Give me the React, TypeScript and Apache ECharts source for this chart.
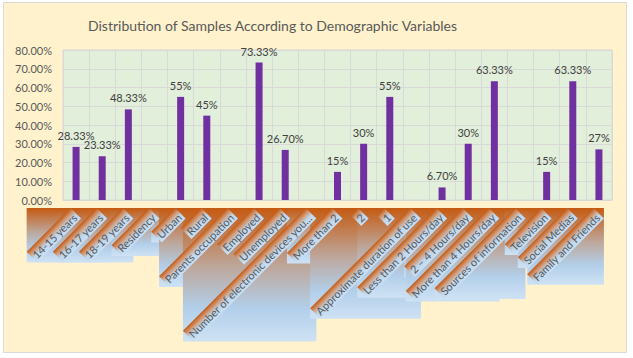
import React, { useEffect, useRef } from "react";
import * as echarts from "echarts";

const categories = [
  "14-15 years", "16-17 years", "18-19 years", "Residency", "Urban", "Rural",
  "Parents occupation", "Employed", "Unemployed", "Number of electronic devices you...",
  "More than 2", "2", "1", "Approximate duration of use", "Less than 2 Hours/day",
  "2 \u2013 4 Hours/day", "More than 4 Hours/day", "Sources of information",
  "Television", "Social Medias", "Family and Friends",
];
const values = [
  28.33, 23.33, 48.33, null, 55, 45, null, 73.33, 26.7, null, 15, 30, 55, null,
  6.7, 30, 63.33, null, 15, 63.33, 27,
];
const valueLabels = [
  "28.33%", "23.33%", "48.33%", "", "55%", "45%", "", "73.33%", "26.70%", "",
  "15%", "30%", "55%", "", "6.70%", "30%", "63.33%", "", "15%", "63.33%", "27%",
];
const yMin = 0;
const yMax = 80;
const yStep = 10;

const TITLE = "Distribution of Samples According to Demographic Variables";
const FONT_FAMILY = "Lato";
const CAT_FONT_SIZE = 11;
const BAND_H = 15;

function measure(text: string, font: string): number {
  const c = document.createElement("canvas").getContext("2d");
  if (!c) return text.length * 5;
  c.font = font;
  return c.measureText(text).width;
}

export default function App() {
  const ref = useRef<HTMLDivElement>(null);
  useEffect(() => {
    if (!ref.current) return;
    const chart = echarts.init(ref.current, null, { renderer: "svg" });
    const catFont = `${CAT_FONT_SIZE}px ${FONT_FAMILY}`;
    const widths = categories.map((c) => measure(c, catFont) + 4);

    const boxGrad = () =>
      new echarts.graphic.LinearGradient(0, 0, 0, 1, [
        { offset: 0, color: "#C55A11" },
        { offset: 0.45, color: "#BDA89E" },
        { offset: 0.75, color: "#B2CFEA" },
        { offset: 1, color: "#CFE2F4" },
      ]);
    const bandGrad = () =>
      new echarts.graphic.LinearGradient(0, 0, 0, 1, [
        { offset: 0, color: "#C55A11" },
        { offset: 0.3, color: "#D19C7C" },
        { offset: 0.6, color: "#BDD7EE" },
        { offset: 1, color: "#CADFF2" },
      ]);

    const geom = (api: any, i: number) => {
      const p = api.coord([i, 0]);
      const w = widths[i];
      const s = (w + BAND_H) * Math.SQRT1_2;
      const right = p[0] + 5;
      const top = p[1] + 8;
      return { w, s, right, top };
    };

    const option: any = {
      animation: false,
      backgroundColor: "#FFFFFF",
      textStyle: { fontFamily: FONT_FAMILY },
      graphic: [
        {
          type: "rect",
          z: -100,
          shape: { x: 3.5, y: 2.5, width: 623, height: 350 },
          style: { fill: "#FFF2CC", stroke: "#D9D9D9", lineWidth: 1 },
        },
      ],
      title: {
        text: TITLE,
        left: 83,
        top: 13,
        textStyle: {
          fontFamily: FONT_FAMILY,
          fontSize: 14,
          fontWeight: "normal",
          color: "#595959",
        },
      },
      grid: {
        left: 63,
        right: 21,
        top: 50,
        bottom: 158,
        show: true,
        backgroundColor: "#E2EFDA",
        borderColor: "#D9D9D9",
        borderWidth: 1,
      },
      xAxis: {
        type: "category",
        data: categories,
        axisLine: { show: true, lineStyle: { color: "#D9D9D9" } },
        axisTick: { show: false, interval: 0 },
        axisLabel: { show: false, interval: 0 },
        splitLine: { show: true, interval: 0, lineStyle: { color: "#D9D9D9" } },
      },
      yAxis: {
        type: "value",
        min: yMin,
        max: yMax,
        interval: yStep,
        axisLine: { show: false },
        axisTick: { show: false },
        axisLabel: {
          color: "#595959",
          fontSize: 11,
          margin: 11,
          fontFamily: FONT_FAMILY,
          formatter: (v: number) => v.toFixed(2) + "%",
        },
        splitLine: { show: true, lineStyle: { color: "#D9D9D9" } },
      },
      series: [
        {
          type: "bar",
          data: values,
          barWidth: 7,
          itemStyle: { color: "#7030A0" },
          label: {
            show: true,
            position: "top",
            distance: 6,
            color: "#404040",
            fontSize: 11,
            fontFamily: FONT_FAMILY,
            formatter: (p: any) => valueLabels[p.dataIndex],
          },
          z: 5,
        },
        {
          type: "custom",
          clip: false,
          silent: true,
          z: 3,
          data: categories.map((_, i) => [i, 0]),
          renderItem: (params: any, api: any) => {
            const i = api.value(0);
            const g = geom(api, i);
            return {
              type: "rect",
              shape: { x: g.right - g.s, y: g.top, width: g.s, height: g.s },
              style: { fill: boxGrad() },
            };
          },
        },
        {
          type: "custom",
          clip: false,
          silent: true,
          z: 4,
          data: categories.map((_, i) => [i, 0]),
          renderItem: (params: any, api: any) => {
            const i = api.value(0);
            const g = geom(api, i);
            return {
              type: "group",
              x: g.right - g.s,
              y: g.top + g.w * Math.SQRT1_2,
              rotation: Math.PI / 4,
              children: [
                {
                  type: "rect",
                  shape: { x: 0, y: 0, width: g.w, height: BAND_H },
                  style: { fill: bandGrad() },
                },
                {
                  type: "text",
                  x: 2,
                  y: BAND_H / 2 + 1,
                  style: {
                    text: categories[i],
                    fill: "#595959",
                    font: catFont,
                    verticalAlign: "middle",
                    align: "left",
                  },
                },
              ],
            };
          },
        },
      ],
    };
    chart.setOption(option);
    return () => chart.dispose();
  }, []);
  return (
    <div
      ref={ref}
      style={{ position: "fixed", left: 0, top: 0, width: 633, height: 358 }}
    />
  );
}
